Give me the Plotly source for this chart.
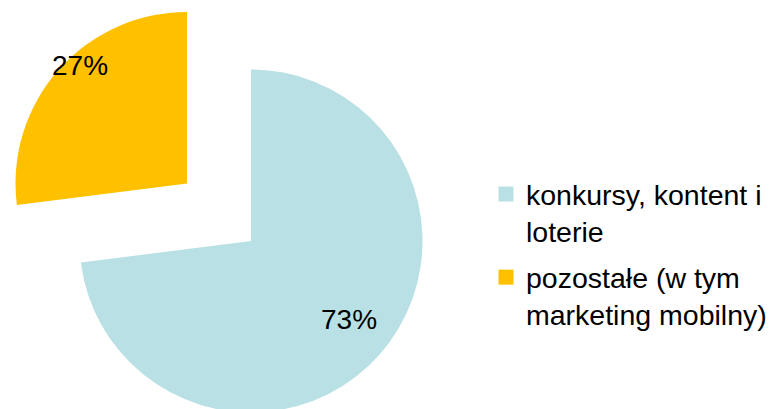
import math
import plotly.graph_objects as go

# ---- data ----
labels = ["konkursy, kontent i<br>loterie", "pozostałe (w tym<br>marketing mobilny)"]
values = [73, 27]
colors = ["#B9E0E4", "#FFC000"]
exploded = [False, True]   # which slice is pulled out

# ---- style / layout constants ----
W, H = 775, 409
OFF = 8                    # page body margin of the html output
FONT = "Liberation Sans, Arial, sans-serif"
R = 171.5
cx, cy = 251 - OFF, 241 - OFF     # centre of main pie (figure px)
dx, dy = -64, -57.5               # explode offset of pulled slice (px)
label_r = [0.74, 0.92]            # label distance as fraction of radius
label_nudge = [-2, 6]             # label angle nudge (deg)

total = sum(values)
pct_text = [f"{round(v / total * 100)}%" for v in values]


def domain(cxp, cyp, r):
    return dict(x=[(cxp - r) / W, (cxp + r) / W],
                y=[max(0, 1 - (cyp + r) / H), min(1, 1 - (cyp - r) / H)])


fig = go.Figure()

# main pie: non-exploded slices
fig.add_trace(go.Pie(
    labels=labels, values=values, sort=False, direction="clockwise", rotation=0,
    marker=dict(colors=[("rgba(0,0,0,0)" if e else c) for c, e in zip(colors, exploded)],
                line=dict(width=0)),
    textinfo="none", domain=domain(cx, cy, R), showlegend=False, hoverinfo="skip",
))

# exploded slice(s)
fig.add_trace(go.Pie(
    labels=labels, values=values, sort=False, direction="clockwise", rotation=0,
    marker=dict(colors=[(c if e else "rgba(0,0,0,0)") for c, e in zip(colors, exploded)],
                line=dict(width=0)),
    textinfo="none", domain=domain(cx + dx, cy + dy, R), showlegend=False, hoverinfo="skip",
))

# percentage labels at slice mid-angles
cum = 0
for v, t, e, rf, nd in zip(values, pct_text, exploded, label_r, label_nudge):
    mid = (cum + v / 2) / total * 360 + nd
    cum += v
    ox, oy = (cx + dx, cy + dy) if e else (cx, cy)
    px = ox + rf * R * math.sin(math.radians(mid))
    py = oy - rf * R * math.cos(math.radians(mid))
    fig.add_annotation(x=px / W, y=1 - py / H, xref="paper", yref="paper",
                       text=t, showarrow=False, xanchor="center", yanchor="middle",
                       yshift=2, font=dict(family=FONT, size=28, color="black"))

# legend entries
for i, (lab, col) in enumerate(zip(labels, colors)):
    fig.add_trace(go.Scatter(
        x=[None], y=[None], mode="markers", name=lab, legendgroup=f"g{i}",
        marker=dict(symbol="square", size=15, color=col),
        showlegend=True, hoverinfo="skip",
    ))

fig.update_layout(
    width=W, height=H,
    margin=dict(l=0, r=0, t=0, b=0),
    paper_bgcolor="white", plot_bgcolor="white",
    xaxis=dict(visible=False), yaxis=dict(visible=False),
    legend=dict(x=(486 - OFF) / W, y=1 - (169 - OFF) / H, xanchor="left", yanchor="top",
                font=dict(family=FONT, size=28.5, color="black"),
                valign="top", tracegroupgap=6, bgcolor="rgba(0,0,0,0)"),
    showlegend=True,
)

fig.write_html("out.html")
